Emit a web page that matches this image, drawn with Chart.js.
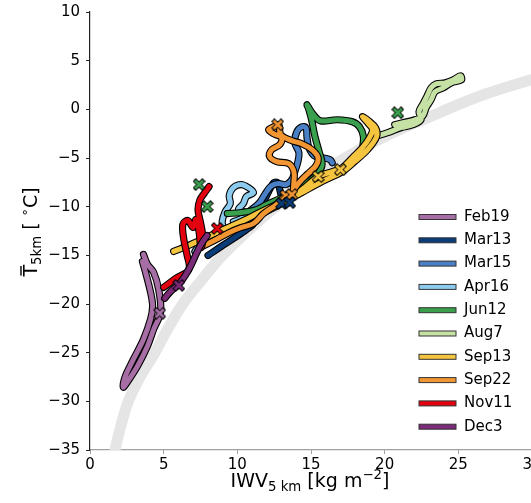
<!DOCTYPE html>
<html><head><meta charset="utf-8">
<script src="https://cdn.jsdelivr.net/npm/chart.js@4/dist/chart.umd.min.js"></script>
<style>html,body{margin:0;padding:0;background:#fff;overflow:hidden}canvas{display:block}</style>
</head><body>
<canvas id="c" width="532" height="503" style="width:532px;height:503px"></canvas>
<script>
const seriesNames = ['Feb19','Mar13','Mar15','Apr16','Jun12','Aug7','Sep13','Sep22','Nov11','Dec3'];
const seriesColors = ['#a66ea5','#0a3c78','#4a80c6','#8dcbee','#3aa04d','#c6e1a4','#f6c540','#f29533','#e3000f','#7b2b78'];
const xTickLabels = ['0','5','10','15','20','25','30'];
const yTickLabels = ['10','5','0','−5','−10','−15','−20','−25','−30','−35'];

// saturation reference band [IWV, T]
const satCurve = [[1.5,-37],[1.7,-35],[2.1,-32.5],[2.6,-30],[3.4,-27.5],[4.4,-25],[5.3,-22.5],[6.3,-20],[7.6,-17.5],[9.0,-15],[10.7,-12.5],[12.6,-10],[14.8,-7.5],[17.3,-5],[20.0,-2.8],[23.0,-0.8],[26.7,1.5],[30.5,3.3]];

const feb19 = [[3.63,-14.91],[3.90,-15.93],[4.32,-16.75],[4.66,-18.50],[4.79,-20.85],[4.32,-22.60],[3.90,-24.34],[3.22,-26.39],[2.53,-28.03],[2.26,-28.54],[2.40,-27.41],[2.95,-25.67],[3.63,-23.62],[4.11,-21.57],[4.25,-20.24],[4.11,-18.80],[3.77,-16.75],[3.56,-15.63]];
const mar13 = [[8.01,-15.01],[8.90,-14.09],[9.73,-13.27],[10.62,-12.35],[11.10,-11.73],[10.96,-10.71],[11.51,-9.89],[11.85,-9.27],[12.19,-8.25],[12.47,-7.53],[12.74,-7.53],[12.88,-8.25],[13.01,-9.07],[13.15,-9.68],[13.56,-9.58]];
const mar15 = [[10.27,-11.01],[10.96,-10.30],[11.51,-9.58],[11.99,-8.45],[12.33,-7.84],[12.81,-7.63],[13.29,-7.73],[13.70,-7.22],[13.90,-6.40],[14.11,-5.38],[14.18,-4.45],[13.90,-3.43],[14.04,-2.30],[14.38,-1.79],[14.66,-1.89],[14.73,-2.92],[14.86,-3.94],[15.21,-4.76],[15.75,-4.97],[16.30,-5.17],[16.44,-5.48]];
const apr16 = [[7.12,-14.60],[7.53,-13.78],[8.22,-13.17],[9.04,-12.55],[8.97,-11.53],[9.18,-10.50],[9.52,-9.68],[9.45,-8.86],[9.73,-8.04],[10.27,-7.73],[10.75,-8.04],[11.10,-8.55],[10.62,-8.96],[10.41,-9.68],[10.07,-10.30],[10.55,-10.60],[10.27,-11.22],[9.73,-11.53]];
const jun12 = [[9.32,-10.71],[10.27,-10.60],[11.30,-10.30],[11.99,-9.78],[13.01,-9.07],[14.04,-8.25],[14.73,-7.53],[15.41,-6.71],[15.75,-5.68],[15.55,-4.35],[15.27,-2.81],[15.07,-1.28],[14.86,-0.05],[14.73,0.47],[15.07,-0.35],[15.62,-1.17],[16.78,-1.07],[17.81,-1.28],[18.29,-1.79],[18.56,-2.81],[18.49,-4.15]];
const aug7 = [[19.32,-2.81],[20.21,-2.40],[21.10,-1.89],[21.92,-1.58],[22.47,-1.07],[22.33,-0.25],[22.60,0.57],[22.88,1.39],[23.15,2.21],[23.49,2.62],[24.11,2.72],[24.66,3.03],[25.14,3.44],[25.21,3.03],[24.52,2.72],[23.97,2.21],[23.42,1.80],[23.15,0.98],[22.81,0.16],[22.60,-0.66],[22.05,-1.07],[21.23,-1.38],[20.68,-1.58]];
const sep13 = [[5.68,-14.60],[6.85,-13.88],[7.88,-13.17],[8.90,-12.45],[10.27,-11.53],[11.64,-10.50],[13.01,-9.48],[14.38,-8.25],[15.48,-6.91],[16.44,-6.40],[17.12,-5.99],[17.81,-4.97],[18.49,-3.94],[18.97,-2.92],[19.18,-2.10],[18.90,-1.48],[18.49,-0.76],[18.90,-1.17],[19.38,-1.89],[19.45,-2.81],[18.84,-4.15],[17.95,-5.38],[17.12,-6.40],[15.75,-7.43],[14.38,-8.55],[13.01,-9.68],[11.64,-10.71]];
const sep22 = [[7.74,-13.99],[8.56,-13.37],[9.45,-12.65],[10.27,-12.14],[11.10,-11.73],[11.78,-10.71],[12.67,-9.78],[13.29,-8.86],[13.70,-8.76],[13.84,-7.43],[13.84,-6.40],[13.49,-5.58],[12.67,-5.38],[12.19,-4.86],[12.33,-4.15],[12.88,-3.63],[13.01,-2.92],[12.47,-2.51],[12.12,-2.10],[12.47,-1.79],[12.81,-1.58],[12.95,-2.61],[13.70,-3.22],[14.38,-3.53],[15.07,-4.15],[15.48,-4.97],[15.34,-5.79],[14.79,-6.61],[14.25,-7.43],[13.84,-8.25]];
const nov11 = [[5.00,-18.29],[5.82,-17.37],[6.71,-16.45],[6.58,-14.91],[6.37,-13.37],[6.30,-11.83],[6.64,-11.42],[6.99,-12.14],[7.19,-11.32],[7.40,-12.55],[7.53,-14.19],[7.67,-13.37],[7.53,-11.83],[7.33,-10.30],[7.47,-9.27],[7.74,-8.66],[8.08,-7.94]];
const dec3 = [[5.07,-19.42],[5.48,-18.70],[6.03,-17.98],[6.51,-16.96],[6.85,-16.04],[7.19,-14.91],[7.53,-13.88],[7.95,-12.96]];

const mkFeb19 = [[4.73,-20.95]];
const mkMar13 = [[13.01,-9.68],[13.56,-9.58]];
const mkMar15 = [];
const mkApr16 = [];
const mkJun12 = [[7.40,-7.73],[7.95,-9.99],[20.89,-0.35]];
const mkAug7 = [];
const mkSep13 = [[15.48,-6.91],[16.99,-6.20]];
const mkSep22 = [[12.74,-1.58],[13.29,-8.86],[13.70,-8.76]];
const mkNov11 = [[8.63,-12.24]];
const mkDec3 = [[6.03,-18.09]];

const tracks = [feb19, mar13, mar15, apr16, jun12, aug7, sep13, sep22, nov11, dec3];
const markers = [mkFeb19, mkMar13, mkMar15, mkApr16, mkJun12, mkAug7, mkSep13, mkSep22, mkNov11, mkDec3];
const FONT = '"DejaVu Sans", sans-serif';

function toPts(a){ return a.map(p => ({x:p[0], y:p[1]})); }
function makeX(color){
  const c = document.createElement('canvas'); c.width = 13; c.height = 13;
  const g = c.getContext('2d');
  g.lineCap = 'butt';
  g.strokeStyle = '#000'; g.lineWidth = 4.4;
  g.beginPath(); g.moveTo(1.6,1.6); g.lineTo(11.4,11.4); g.moveTo(11.4,1.6); g.lineTo(1.6,11.4); g.stroke();
  g.strokeStyle = color; g.lineWidth = 2.8;
  g.beginPath(); g.moveTo(2.4,2.4); g.lineTo(10.6,10.6); g.moveTo(10.6,2.4); g.lineTo(2.4,10.6); g.stroke();
  return c;
}

const datasets = [];
datasets.push({data: toPts(satCurve), showLine:true, borderColor:'#e5e5e5', borderWidth:11, pointRadius:0, tension:0.4, order:1000});
tracks.forEach((t,i) => {
  const base = 100 - i*2;
  const common = {data: toPts(t), showLine:true, pointRadius:0, tension:0.35, borderJoinStyle:'round', borderCapStyle:'round'};
  datasets.push(Object.assign({}, common, {borderColor:'#000', borderWidth:7.2, order: base+1}));
  datasets.push(Object.assign({}, common, {data: toPts(t), borderColor: seriesColors[i], borderWidth:5, order: base}));
});
markers.forEach((m,i) => {
  if (m.length) datasets.push({data: toPts(m), showLine:false, pointStyle: makeX(seriesColors[i]), pointRadius:5, order:-1});
});

function drawRuns(ctx, runs, cx, baseY){
  let total = 0;
  runs.forEach(r => { ctx.font = r.size + 'px ' + FONT; r.w = ctx.measureText(r.t).width; total += r.w; });
  let x = cx - total/2;
  ctx.textBaseline = 'alphabetic'; ctx.textAlign = 'left'; ctx.fillStyle = '#000';
  runs.forEach(r => {
    ctx.font = r.size + 'px ' + FONT;
    ctx.fillText(r.t, x, baseY + (r.dy||0));
    if (r.over){ ctx.fillRect(x+1, baseY - r.size*0.88, r.w-2, 1.4); }
    x += r.w;
  });
}

const decor = {
  id:'decor',
  afterDraw(chart){
    const ctx = chart.ctx;
    ctx.save();
    drawRuns(ctx, [{t:'IWV',size:19},{t:'5 km',size:13.3,dy:4},{t:' [kg m',size:19},{t:'−2',size:13.3,dy:-8},{t:']',size:19}], 310, 487);
    ctx.save(); ctx.translate(37, 232); ctx.rotate(-Math.PI/2);
    drawRuns(ctx, [{t:'T',size:19,over:true},{t:'5km',size:13.3,dy:4},{t:' [ ',size:19},{t:'∘',size:13.3,dy:-8},{t:'C]',size:19}], 0, 0);
    ctx.restore();
    seriesNames.forEach((n,i) => {
      const y = 217 + i*23.3;
      ctx.fillStyle = seriesColors[i]; ctx.fillRect(419, y-2.5, 37, 5);
      ctx.strokeStyle = '#333'; ctx.lineWidth = 1; ctx.strokeRect(419, y-2.5, 37, 5);
      ctx.fillStyle = '#000'; ctx.font = '15px ' + FONT; ctx.textBaseline = 'middle'; ctx.textAlign = 'left';
      ctx.fillText(n, 464, y);
    });
    ctx.restore();
  }
};

new Chart(document.getElementById('c'), {
  type:'scatter',
  data:{datasets},
  plugins:[decor],
  options:{
    responsive:false, animation:false, events:[],
    layout:{autoPadding:false, padding:{left:0, right:0, top:12, bottom:0}},
    plugins:{legend:{display:false}, tooltip:{enabled:false}},
    scales:{
      x:{type:'linear', min:0, max:30,
        afterFit(s){ s.height = 53; s.paddingLeft = 0; s.paddingRight = 0; },
        border:{display:true, color:'#a0a0a0', width:1.2},
        grid:{drawOnChartArea:false, drawTicks:true, tickLength:4, color:'#a0a0a0'},
        ticks:{stepSize:5, padding:2, color:'#000', font:{family:FONT, size:15}, maxRotation:0,
          callback:(v) => xTickLabels[Math.round(v/5)] ?? ''}
      },
      y:{type:'linear', min:-35, max:10,
        afterFit(s){ s.width = 90; s.paddingTop = 0; s.paddingBottom = 0; },
        border:{display:true, color:'#222', width:1.2},
        grid:{drawOnChartArea:false, drawTicks:true, tickLength:4, color:'#222'},
        ticks:{stepSize:5, padding:6, color:'#000', font:{family:FONT, size:15},
          callback:(v) => yTickLabels[Math.round((10 - v)/5)] ?? ''}
      }
    }
  }
});
</script>
</body></html>
